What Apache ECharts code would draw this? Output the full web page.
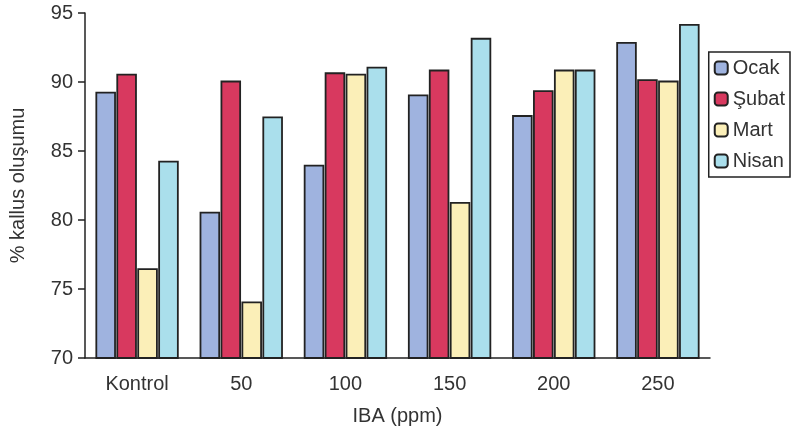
<!DOCTYPE html>
<html>
<head>
<meta charset="utf-8">
<script src="https://cdn.jsdelivr.net/npm/echarts@6/dist/echarts.min.js"></script>
<style>
  html, body { margin: 0; padding: 0; background: #fff; }
  #chart { width: 795px; height: 437px; }
</style>
</head>
<body>
<div id="chart"></div>
<script>
const categories = ['Kontrol', '50', '100', '150', '200', '250']
const ocak = [89.3, 80.6, 84.0, 89.1, 87.6, 92.9]
const subat = [90.6, 90.1, 90.7, 90.9, 89.4, 90.2]
const mart = [76.5, 74.1, 90.6, 81.3, 90.9, 90.1]
const nisan = [84.3, 87.5, 91.1, 93.2, 90.9, 94.2]

const font = 'Liberation Sans, Arial, sans-serif'
const textColor = '#333'

const makeSeries = (name, data, color) => ({
  name,
  type: 'bar',
  data,
  barGap: '2%',
  barCategoryGap: '20%',
  itemStyle: { color, borderColor: '#222', borderWidth: 1.8 }
})

const chart = echarts.init(document.getElementById('chart'))
chart.setOption({
  animation: false,
  backgroundColor: '#fff',
  grid: { left: 80, right: 85, top: 13, bottom: 79 },
  legend: {
    orient: 'vertical',
    right: 5,
    top: 52,
    itemWidth: 13,
    itemHeight: 13,
    itemGap: 11,
    padding: [6, 5, 6, 5],
    borderColor: '#222',
    borderWidth: 1.5,
    textStyle: { fontFamily: font, fontSize: 20, color: textColor },
    data: ['Ocak', 'Şubat', 'Mart', 'Nisan']
  },
  xAxis: {
    type: 'category',
    data: categories,
    name: 'IBA (ppm)',
    nameLocation: 'middle',
    nameGap: 48,
    nameTextStyle: { fontFamily: font, fontSize: 20, color: textColor },
    axisLine: { lineStyle: { color: '#222', width: 1.5 } },
    axisTick: { length: 7, lineStyle: { color: '#222', width: 1.5 } },
    axisLabel: { fontFamily: font, fontSize: 20, color: textColor, margin: 16 }
  },
  yAxis: {
    type: 'value',
    min: 70,
    max: 95,
    interval: 5,
    name: '% kallus oluşumu',
    nameLocation: 'middle',
    nameGap: 57,
    nameTextStyle: { fontFamily: font, fontSize: 20, color: textColor },
    splitLine: { show: false },
    axisLine: { show: true, lineStyle: { color: '#222', width: 1.5 } },
    axisTick: { show: true, length: 7, lineStyle: { color: '#222', width: 1.5 } },
    axisLabel: { fontFamily: font, fontSize: 20, color: textColor, margin: 12 }
  },
  series: [
    makeSeries('Ocak', ocak, '#9fb3df'),
    makeSeries('Şubat', subat, '#d8395f'),
    makeSeries('Mart', mart, '#fbefb8'),
    makeSeries('Nisan', nisan, '#aadfec')
  ]
})
</script>
</body>
</html>
